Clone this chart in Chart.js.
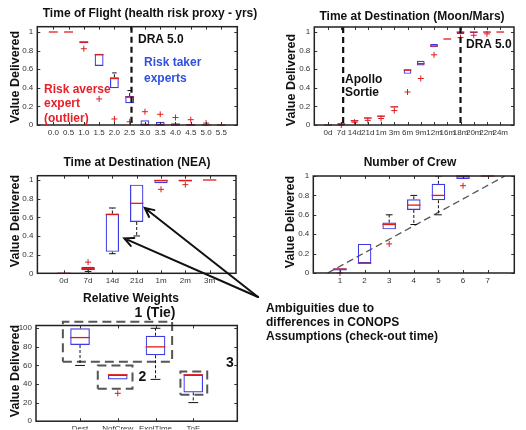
<!DOCTYPE html>
<html>
<head>
<meta charset="utf-8">
<script src="https://cdn.jsdelivr.net/npm/chart.js@4.4.0/dist/chart.umd.min.js"></script>
<style>
  html, body { margin: 0; padding: 0; background: #fff; }
  #page { position: relative; width: 526px; height: 430px; overflow: hidden; font-family: "Liberation Sans", Arial, sans-serif; }
  #page canvas { position: absolute; left: 0; top: 0; }
  .txt { position: absolute; font-weight: bold; font-size: 12px; line-height: 14px; white-space: nowrap; color: #111; }
  .c { transform: translate(-50%, -50%); }
  .ylab { transform: translate(-50%, -50%) rotate(-90deg); font-size: 12.5px; }
</style>
</head>
<body>
<div id="page">
  <canvas id="tof" width="526" height="430"></canvas>
  <canvas id="moon" width="526" height="430"></canvas>
  <canvas id="nea" width="526" height="430"></canvas>
  <canvas id="crew" width="526" height="430"></canvas>
  <canvas id="weights" width="526" height="430"></canvas>

  <div class="txt c" style="left:150px;top:12.5px">Time of Flight (health risk proxy - yrs)</div>
  <div class="txt c" style="left:412px;top:16px">Time at Destination (Moon/Mars)</div>
  <div class="txt c" style="left:137px;top:161.5px">Time at Destination (NEA)</div>
  <div class="txt c" style="left:410px;top:161.5px">Number of Crew</div>
  <div class="txt c" style="left:131px;top:298px">Relative Weights</div>

  <div class="txt ylab" style="left:15px;top:77px">Value Delivered</div>
  <div class="txt ylab" style="left:291px;top:80px">Value Delivered</div>
  <div class="txt ylab" style="left:15px;top:221px">Value Delivered</div>
  <div class="txt ylab" style="left:290px;top:222px">Value Delivered</div>
  <div class="txt ylab" style="left:15px;top:371px">Value Delivered</div>

  <div class="txt" style="left:138px;top:31.5px">DRA 5.0</div>
  <div class="txt" style="left:144px;top:55px;line-height:15.5px;color:#3050e0">Risk taker<br>experts</div>
  <div class="txt" style="left:44px;top:82px;line-height:14.3px;color:#e8202a">Risk averse<br>expert<br>(outlier)</div>
  <div class="txt" style="left:345px;top:72.5px;line-height:13.4px">Apollo<br>Sortie</div>
  <div class="txt" style="left:466px;top:36.5px">DRA 5.0</div>
  <div class="txt c" style="left:155px;top:311.5px;font-size:14px">1 (Tie)</div>
  <div class="txt c" style="left:142.5px;top:375.5px;font-size:14px">2</div>
  <div class="txt c" style="left:230px;top:361.5px;font-size:14px">3</div>
  <div class="txt" style="left:266px;top:301.3px">Ambiguities due to<br>differences in CONOPS<br>Assumptions (check-out time)</div>
</div>
<script>
// Time of Flight (health risk proxy - yrs)
const tofLabels = ['0.0', '0.5', '1.0', '1.5', '2.0', '2.5', '3.0', '3.5', '4.0', '4.5', '5.0', '5.5'];
const tofQ1  = [1, 1, 0.88, 0.635, 0.395, 0.235, 0, 0, 0, 0, 0, 0];
const tofMed = [1, 1, 0.89, 0.755, 0.50, 0.30, 0, 0, 0, 0, 0, 0];
const tofQ3  = [1, 1, 0.90, 0.765, 0.513, 0.312, 0.05, 0.035, 0.02, 0.01, 0, 0];
const tofLo  = [1, 1, 0.88, 0.635, 0.395, 0.235, 0, 0, 0, 0, 0, 0];
const tofHi  = [1, 1, 0.90, 0.765, 0.56, 0.37, 0.05, 0.035, 0.02, 0.01, 0, 0];
const tofOut = [null, null, 0.82, 0.28, 0.065, 0.035, 0.143, 0.115, 0.08, 0.057, 0.02, null];
const tofDRA = [6.12];

// Time at Destination (Moon/Mars)
const moonLabels = ['0d', '7d', '14d', '21d', '1m', '3m', '6m', '9m', '12m', '16m', '18m', '20m', '22m', '24m'];
const moonQ1  = [0, 0, 0.04, 0.07, 0.09, 0.19, 0.55, 0.64, 0.835, 0.925, 0.98, 0.99, 0.995, 1];
const moonMed = [0, 0.01, 0.045, 0.075, 0.095, 0.195, 0.59, 0.66, 0.85, 0.925, 1, 1, 1, 1];
const moonQ3  = [0, 0.02, 0.05, 0.08, 0.10, 0.20, 0.60, 0.69, 0.87, 0.925, 1, 1, 1, 1];
const moonOut = [null, 0, 0.03, 0.05, 0.07, 0.155, 0.355, 0.50, 0.755, null, 0.94, 0.965, 0.98, null];
const moonLines = [2.14, 11];

// Time at Destination (NEA)
const neaLabels = ['0d', '7d', '14d', '21d', '1m', '2m', '3m'];
const neaQ1  = [0, 0.035, 0.23, 0.55, 0.965, 0.985, 1];
const neaMed = [0, 0.05, 0.63, 0.75, 0.995, 0.995, 1];
const neaQ3  = [0, 0.07, 0.64, 0.95, 1, 1, 1];
const neaLo  = [0, 0.02, 0.21, 0.40, 0.965, 0.985, 1];
const neaHi  = [0, 0.07, 0.70, 0.95, 1, 1, 1];
const neaOut = [null, 0.12, null, null, 0.90, 0.95, null];
const neaArrowTips = [[3.49, 0.375], [4.33, 0.70]];
const arrowTail = [258, 297];

// Number of Crew
const crewLabels = ['1', '2', '3', '4', '5', '6', '7'];
const crewQ1  = [0.025, 0.10, 0.45, 0.65, 0.75, 0.97, 1];
const crewMed = [0.04, 0.10, 0.50, 0.70, 0.80, 1, 1];
const crewQ3  = [0.05, 0.30, 0.52, 0.76, 0.92, 1, 1];
const crewLo  = [0.025, 0.10, 0.45, 0.50, 0.60, 0.97, 1];
const crewHi  = [0.05, 0.30, 0.60, 0.80, 1.0, 1, 1];
const crewOut = [0, null, 0.30, null, null, 0.90, null];
const crewDiag = [[0.5, 0], [7.7, 1.0]];

// Relative Weights
const wLabels = ['Dest', 'NofCrew', 'ExplTime', 'ToF'];
const wQ1  = [82, 45, 71, 31];
const wMed = [90, 50, 80, 50];
const wQ3  = [100, 50, 92, 50];
const wLo  = [60, 45, 45, 20];
const wHi  = [100, 50, 100, 50];
const wOut = [null, 30, null, null];
const wGroups = [[0.545, 3.44, 64, 107], [1.47, 2.39, 35, 60], [3.66, 4.37, 28.5, 53.5]];

const unitTicks = [0, 0.2, 0.4, 0.6, 0.8, 1];
const pctTicks = [0, 20, 40, 60, 80, 100];

Chart.defaults.font.family = '"Liberation Sans", Arial, sans-serif';

// axes box with inward tick marks, matlab style
const frame = {
  id: 'frame',
  afterDraw(chart) {
    const { ctx, chartArea: a, scales: { x, y } } = chart;
    ctx.save();
    ctx.strokeStyle = '#333';
    ctx.lineWidth = 1;
    ctx.beginPath();
    y.ticks.forEach(t => {
      const py = Math.round(y.getPixelForValue(t.value)) + 0.5;
      ctx.moveTo(a.left, py); ctx.lineTo(a.left + 3, py);
      ctx.moveTo(a.right, py); ctx.lineTo(a.right - 3, py);
    });
    x.ticks.forEach(t => {
      const px = Math.round(x.getPixelForValue(t.value)) + 0.5;
      ctx.moveTo(px, a.bottom); ctx.lineTo(px, a.bottom - 3);
      ctx.moveTo(px, a.top); ctx.lineTo(px, a.top + 3);
    });
    ctx.stroke();
    ctx.strokeStyle = '#222';
    ctx.lineWidth = 1.5;
    ctx.strokeRect(a.left, a.top, a.right - a.left, a.bottom - a.top);
    ctx.restore();
  }
};

// thick dashed vertical markers
const vlines = {
  id: 'vlines',
  afterDatasetsDraw(chart, args, opts) {
    const { ctx, chartArea: a, scales: { x } } = chart;
    (opts.at || []).forEach(v => {
      const px = x.getPixelForValue(v);
      ctx.save();
      ctx.setLineDash([6, 4]);
      ctx.lineWidth = 2.2;
      ctx.strokeStyle = '#111';
      ctx.beginPath();
      ctx.moveTo(px, a.top);
      ctx.lineTo(px, a.bottom);
      ctx.stroke();
      ctx.restore();
    });
  }
};

Chart.register(frame, vlines);

const arrows = {
  id: 'arrows',
  afterDraw(chart) {
    const { ctx, scales: { x, y } } = chart;
    const [sx, sy] = arrowTail;
    ctx.save();
    ctx.strokeStyle = '#111';
    ctx.lineWidth = 2;
    ctx.lineCap = 'round';
    neaArrowTips.forEach(([vx, vy]) => {
      const tx = x.getPixelForValue(vx), ty = y.getPixelForValue(vy);
      const ang = Math.atan2(ty - sy, tx - sx);
      ctx.beginPath();
      ctx.moveTo(sx, sy);
      ctx.lineTo(tx, ty);
      ctx.moveTo(tx - 10 * Math.cos(ang - 0.45), ty - 10 * Math.sin(ang - 0.45));
      ctx.lineTo(tx, ty);
      ctx.lineTo(tx - 10 * Math.cos(ang + 0.45), ty - 10 * Math.sin(ang + 0.45));
      ctx.stroke();
    });
    ctx.restore();
  }
};

function boxChart(id, d) {
  const n = d.labels.length;
  const step = c => {
    const xs = c.chart.scales.x;
    return xs.getPixelForValue(2) - xs.getPixelForValue(1);
  };
  const boxes = [], meds = [], whisk = [], caps = [], outs = [];
  for (let i = 0; i < n; i++) {
    const xv = i + 1;
    if (d.q3[i] > d.q1[i]) boxes.push({ x: xv, y: [d.q1[i], d.q3[i]] });
    meds.push({ x: xv, y: d.med[i] });
    if (d.lo[i] < d.q1[i]) {
      whisk.push({ x: xv, y: d.q1[i] }, { x: xv, y: d.lo[i] }, { x: xv, y: null });
      caps.push({ x: xv, y: d.lo[i] });
    }
    if (d.hi[i] > d.q3[i]) {
      whisk.push({ x: xv, y: d.q3[i] }, { x: xv, y: d.hi[i] }, { x: xv, y: null });
      caps.push({ x: xv, y: d.hi[i] });
    }
    if (d.out[i] != null) outs.push({ x: xv, y: d.out[i] });
  }

  const datasets = [
    { type: 'line', data: outs, showLine: false, pointStyle: 'cross', pointRadius: 3,
      pointBorderColor: '#e21b1b', pointBorderWidth: 1, clip: false, order: 0 },
    { type: 'line', data: meds, showLine: false, pointStyle: 'line',
      pointRadius: c => step(c) * d.boxFrac / 2, pointBorderColor: '#e21b1b', borderColor: '#e21b1b',
      pointBorderWidth: 1.3, clip: false, order: 1 },
    { type: 'line', data: caps, showLine: false, pointStyle: 'line',
      pointRadius: c => step(c) * d.boxFrac / 4, pointBorderColor: '#111', borderColor: '#111',
      pointBorderWidth: 1, order: 2 },
    { type: 'line', data: whisk, borderColor: '#111', borderWidth: 1, borderDash: [3, 2],
      pointRadius: 0, spanGaps: false, order: 3 },
    { type: 'bar', data: boxes, backgroundColor: 'rgba(0,0,0,0)', borderColor: '#3b3be6',
      borderWidth: 1.2, borderSkipped: false, barPercentage: d.boxFrac, categoryPercentage: 1,
      inflateAmount: 0, order: 4 }
  ].concat(d.extra || []);

  return new Chart(document.getElementById(id), {
    type: 'bar',
    data: { datasets },
    options: {
      responsive: false,
      animation: false,
      events: [],
      layout: { padding: { left: 0, top: d.area.t, right: 526 - d.area.r, bottom: 0 } },
      plugins: {
        legend: { display: false },
        tooltip: { enabled: false },
        vlines: { at: d.vlines || [] }
      },
      scales: {
        x: {
          type: 'linear',
          min: 0.5,
          max: n + 0.5,
          grid: { display: false, drawTicks: false },
          border: { display: false },
          afterBuildTicks: s => { s.ticks = d.labels.map((_, i) => ({ value: i + 1 })); },
          afterFit: s => { s.height = 430 - d.area.b; },
          ticks: {
            autoSkip: false, maxRotation: 0, padding: 3, color: '#333',
            font: { size: 8 },
            callback: v => d.labels[v - 1]
          }
        },
        y: {
          min: 0,
          max: d.ymax,
          grid: { display: false, drawTicks: false },
          border: { display: false },
          afterBuildTicks: s => { s.ticks = d.yTicks.map(v => ({ value: v })); },
          afterFit: s => { s.width = d.area.l; },
          ticks: {
            padding: 4, color: '#333',
            font: { size: 8 },
            callback: v => String(+v.toFixed(1))
          }
        }
      }
    },
    plugins: d.plugins || []
  });
}

boxChart('tof', {
  labels: tofLabels, q1: tofQ1, med: tofMed, q3: tofQ3, lo: tofLo, hi: tofHi, out: tofOut,
  area: { l: 37.3, t: 26.7, r: 237.3, b: 125 }, ymax: 1.057, yTicks: unitTicks, boxFrac: 0.58,
  vlines: tofDRA
});

boxChart('moon', {
  labels: moonLabels, q1: moonQ1, med: moonMed, q3: moonQ3, lo: moonQ1, hi: moonQ3, out: moonOut,
  area: { l: 314.3, t: 27, r: 514, b: 125 }, ymax: 1.054, yTicks: unitTicks, boxFrac: 0.58,
  vlines: moonLines
});

boxChart('nea', {
  labels: neaLabels, q1: neaQ1, med: neaMed, q3: neaQ3, lo: neaLo, hi: neaHi, out: neaOut,
  area: { l: 37.4, t: 175.7, r: 236, b: 273.3 }, ymax: 1.046, yTicks: unitTicks, boxFrac: 0.55,
  plugins: [arrows]
});

boxChart('crew', {
  labels: crewLabels, q1: crewQ1, med: crewMed, q3: crewQ3, lo: crewLo, hi: crewHi, out: crewOut,
  area: { l: 313.3, t: 176, r: 514.3, b: 273 }, ymax: 1, yTicks: unitTicks, boxFrac: 0.55,
  extra: [{
    type: 'line', data: crewDiag.map(([x, y]) => ({ x, y })), borderColor: '#555',
    borderWidth: 1.3, borderDash: [7, 4], pointRadius: 0, clip: false, order: 5
  }]
});

boxChart('weights', {
  labels: wLabels, q1: wQ1, med: wMed, q3: wQ3, lo: wLo, hi: wHi, out: wOut,
  area: { l: 36, t: 325.5, r: 237.3, b: 421.7 }, ymax: 103, yTicks: pctTicks, boxFrac: 0.52,
  extra: wGroups.map(([x0, x1, y0, y1]) => ({
    type: 'line',
    data: [{ x: x0, y: y0 }, { x: x1, y: y0 }, { x: x1, y: y1 }, { x: x0, y: y1 }, { x: x0, y: y0 }],
    borderColor: '#555', borderWidth: 2, borderDash: [9, 5], pointRadius: 0, clip: false, order: 5
  }))
});
</script>
</body>
</html>
